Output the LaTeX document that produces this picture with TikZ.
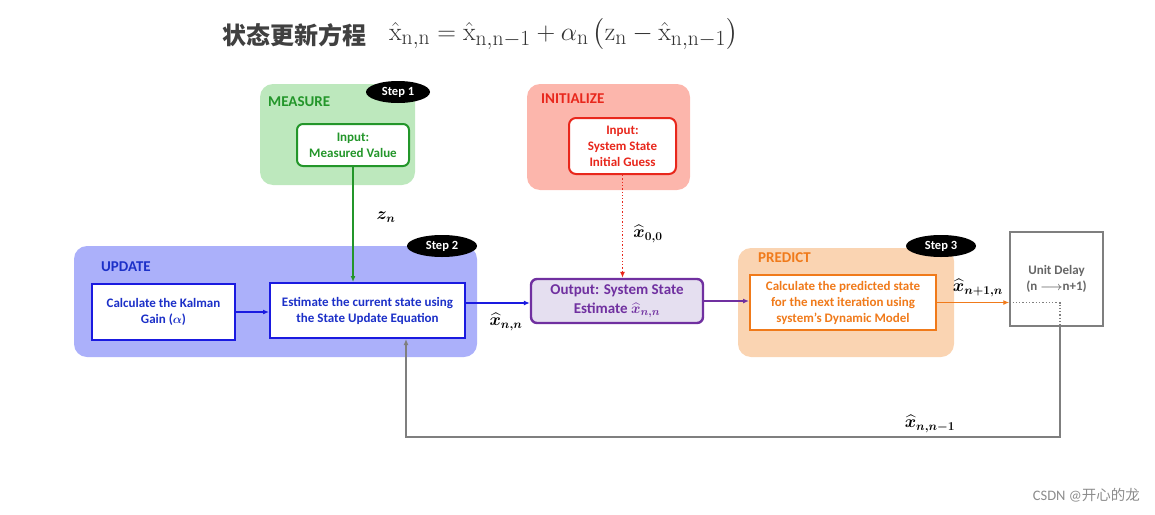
\documentclass[tikz,border=0pt]{standalone}
\usepackage{amsmath,bm,graphicx}
\usepackage[no-math]{fontspec}
\setmainfont{Carlito}
\newfontfamily\cjk{Noto Sans CJK SC}
\usetikzlibrary{arrows.meta,shapes.geometric}
\definecolor{gfill}{HTML}{BDE8BD}
\definecolor{gline}{HTML}{23962A}
\definecolor{rfill}{HTML}{FCB6AC}
\definecolor{rline}{HTML}{E8271C}
\definecolor{bfill}{HTML}{ABB0FA}
\definecolor{bline}{HTML}{1A1AE0}
\definecolor{btext}{HTML}{1C30C8}
\definecolor{pfill}{HTML}{E5DFF0}
\definecolor{pline}{HTML}{7030A0}
\definecolor{ofill}{HTML}{FAD4B2}
\definecolor{oline}{HTML}{F07A1A}
\definecolor{gray1}{HTML}{7F7F7F}
\tikzset{
  bg/.style={rounded corners=13, draw=none, inner sep=0},
  inbox/.style={line width=2, fill=white, align=center, inner sep=0,
    font=\fontsize{13}{16}\selectfont\bfseries},
  steplbl/.style={ellipse, fill=black, text=white, inner sep=0,
    minimum width=70, minimum height=22, font=\fontsize{12.5}{13}\selectfont\bfseries},
  grplbl/.style={anchor=west, font=\fontsize{15}{17}\selectfont\bfseries, inner sep=0},
  arr/.style={line width=1.3, -{Latex[length=6pt,width=5pt]}},
  mlbl/.style={font=\fontsize{17}{19}\selectfont}
}
\begin{document}
\begin{tikzpicture}[x=1pt,y=-1pt]
\useasboundingbox (0,0) rectangle (1155,514);
% title
\node[anchor=west, text=black!75, inner sep=0] (ttl) at (222,35) {\cjk\fontsize{24}{26}\selectfont\bfseries 状态更新方程};
\node[anchor=west, text=black!80, inner sep=0] (eq) at (389,34) {\scalebox{1.04}{\fontsize{24.88}{28}\selectfont $\hat{\mathrm{x}}_{\mathrm{n,n}} = \hat{\mathrm{x}}_{\mathrm{n,n-1}} + \alpha_{\mathrm{n}}\left(\mathrm{z}_{\mathrm{n}} - \hat{\mathrm{x}}_{\mathrm{n,n-1}}\right)$}};
% measure
\node[bg, fill=gfill, minimum width=155, minimum height=101] (mbg) at (337.5,134.5) {};
\node[grplbl, text=gline] (mlab) at (268,102) {MEASURE};
\node[inbox, draw=gline, text=gline, rounded corners=6, minimum width=112, minimum height=42] (mv) at (353,145) {Input:\\Measured Value};
\node[steplbl, minimum width=64] (s1) at (398,92) {Step 1};
% initialize
\node[bg, fill=rfill, minimum width=163, minimum height=106] (ibg) at (608.5,137) {};
\node[grplbl, text=rline] (ilab) at (541,99) {INITIALIZE};
\node[inbox, draw=rline, text=rline, rounded corners=7, minimum width=107, minimum height=56] (ig) at (622.5,146) {Input:\\System State\\Initial Guess};
% update
\node[bg, fill=bfill, minimum width=403, minimum height=111] (ubg) at (275.5,301.5) {};
\node[grplbl, text=btext] (ulab) at (101,267) {UPDATE};
\node[inbox, draw=bline, text=btext, minimum width=143, minimum height=56] (kg) at (163.5,312) {Calculate the Kalman\\Gain ($\boldsymbol{\alpha}$)};
\node[inbox, draw=bline, text=btext, minimum width=195, minimum height=55] (est) at (367.5,310.5) {Estimate the current state using\\the State Update Equation};
\node[steplbl] (s2) at (442,246) {Step 2};
% output
\node[inbox, fill=pfill, draw=pline, text=pline, rounded corners=6, line width=2.4, minimum width=172, minimum height=44, font=\fontsize{15}{19}\selectfont\bfseries] (out) at (617,301) {Output: System State\\Estimate $\boldsymbol{\widehat{x}_{n,n}}$};
% predict
\node[bg, fill=ofill, minimum width=216, minimum height=109] (pbg) at (846,302.5) {};
\node[grplbl, text=oline] (plab) at (758,258) {PREDICT};
\node[inbox, draw=oline, text=oline, minimum width=186, minimum height=55] (pr) at (843,302.5) {Calculate the predicted state\\for the next iteration using\\system's Dynamic Model};
\node[steplbl] (s3) at (941,246) {Step 3};
% unit delay
\node[draw=gray1, line width=1.5, fill=white, minimum width=93, minimum height=94, inner sep=0, align=center, text=black!60, font=\fontsize{13}{16}\selectfont\bfseries] (ud) at (1056.5,279) {Unit Delay\\(n $\boldsymbol{\longrightarrow}$n+1)};
% connectors
\draw[arr, draw=gline] (mv.south) -- (mv.south |- est.north);
\node[mlbl] (zn) at (386,217) {$\boldsymbol{z_n}$};
\draw[arr, draw=rline, dotted, line width=1.5] (ig.south) -- (ig.south |- out.north);
\node[mlbl] (x00) at (648,234) {$\boldsymbol{\widehat{x}_{0,0}}$};
\draw[arr, draw=bline] (kg.east) -- (est.west |- kg.east);
\draw[arr, draw=bline] (est.east |- 0,303) -- (out.west |- 0,303);
\node[mlbl] (xnn) at (506,322) {$\boldsymbol{\widehat{x}_{n,n}}$};
\draw[arr, draw=pline] (out.east) -- (pr.west |- out.east);
\draw[arr, draw=oline] (pr.east) -- (ud.west |- pr.east) coordinate (udin);
\node[mlbl] (xn1) at (978,288) {$\boldsymbol{\widehat{x}_{n+1,n}}$};
\coordinate (dc) at (1060,302.5);
\draw[gray1, dotted, line width=1.3] (udin) -- (dc) -- (dc |- ud.south);
\coordinate (fb1) at (1060,437);
\coordinate (fb2) at (406,437);
\draw[arr, draw=gray1, line width=1.3] (dc |- ud.south) -- (fb1) -- (fb2) -- (fb2 |- est.south);
\node[mlbl] (xnm) at (930,424) {$\boldsymbol{\widehat{x}_{n,n-1}}$};
% watermark
\node[anchor=east, text=black!45, inner sep=0] (wm) at (1140,495) {\fontsize{14.5}{16}\selectfont CSDN @\cjk 开心的龙};
\end{tikzpicture}
\end{document}
